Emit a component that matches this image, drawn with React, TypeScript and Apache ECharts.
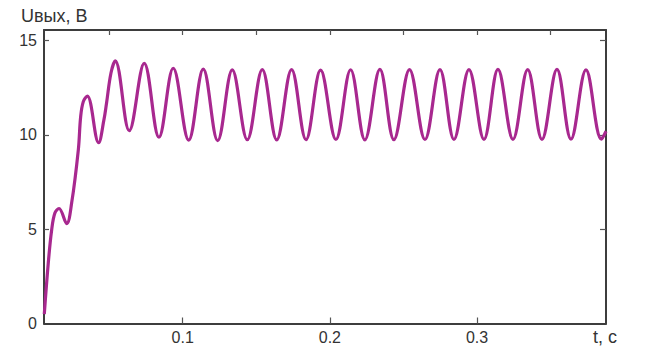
import React, { useEffect, useRef } from "react";
import * as echarts from "echarts";

// time, s (start-up points, then the peaks and troughs of the steady ripple)
const tValues = [
  0.006, 0.0087, 0.011, 0.0132, 0.016, 0.0212, 0.0246, 0.0291, 0.0307, 0.0325, 0.0352,
  0.0429, 0.0465, 0.0483, 0.0513, 0.0542, 0.0637, 0.0739, 0.0839,
  0.0936, 0.1041, 0.114, 0.1238, 0.1337, 0.1439, 0.1541, 0.1639, 0.174, 0.1838,
  0.1937, 0.2041, 0.2141, 0.2238, 0.234, 0.2435, 0.2541, 0.2646, 0.2748, 0.2843,
  0.2945, 0.3047, 0.3142, 0.3244, 0.3344, 0.3441, 0.3543, 0.3638, 0.374, 0.3845,
  0.3876,
];
// output voltage, V
const uValues = [
  0.5, 3.2, 4.96, 5.86, 6.1, 5.3, 6.4, 9.2, 10.97, 11.77, 12.07,
  9.59, 10.8, 11.7, 13.29, 13.93, 10.23, 13.8, 9.88,
  13.54, 9.73, 13.49, 9.7, 13.45, 9.75, 13.47, 9.74, 13.47, 9.75,
  13.44, 9.76, 13.46, 9.74, 13.48, 9.75, 13.47, 9.76, 13.47, 9.76,
  13.47, 9.77, 13.48, 9.77, 13.47, 9.77, 13.48, 9.78, 13.45, 9.78,
  10.2,
];

const xLabelTicks = [0.1, 0.2, 0.3];
const xTopTicks = [0.05, 0.1, 0.15, 0.2, 0.25, 0.3, 0.35];
const yTicks = [0, 5, 10, 15];
const yInnerTicks = [5, 10, 15];

const xMin = 0.0058;
const xMax = 0.3876;
const yMin = 0;
const yMax = 15.57;

const axisColor = "#3d3d3d";
const textColor = "#333333";
const lineColor = "#a8288f";
const fontFamily = "Liberation Sans, Arial, sans-serif";

export default function App() {
  const ref = useRef<HTMLDivElement>(null);

  useEffect(() => {
    if (!ref.current) return;
    const chart = echarts.init(ref.current, null, { renderer: "svg" });
    const data = tValues.map((t, i) => [t, uValues[i]]);
    const tickStyle = { color: "#555", width: 1.2 };
    chart.setOption({
      animation: false,
      backgroundColor: "#ffffff",
      grid: { left: 44, right: 44, top: 30, bottom: 28.5, containLabel: false },
      xAxis: [
        {
          type: "value",
          position: "bottom",
          min: xMin,
          max: xMax,
          axisLine: { show: true, onZero: false, lineStyle: { color: axisColor, width: 2 } },
          axisTick: { show: true, inside: true, length: 6, customValues: xLabelTicks, lineStyle: tickStyle },
          axisLabel: {
            show: true,
            customValues: xLabelTicks,
            formatter: (v: number) => String(Math.round(v * 10) / 10),
            color: textColor,
            fontSize: 16,
            fontFamily,
            margin: 6,
          },
          splitLine: { show: false },
        },
        {
          type: "value",
          position: "top",
          min: xMin,
          max: xMax,
          axisLine: { show: true, onZero: false, lineStyle: { color: axisColor, width: 2 } },
          axisTick: { show: true, inside: true, length: 5, customValues: xTopTicks, lineStyle: tickStyle },
          axisLabel: { show: false },
          splitLine: { show: false },
        },
      ],
      yAxis: [
        {
          type: "value",
          position: "left",
          min: yMin,
          max: yMax,
          axisLine: { show: true, onZero: false, lineStyle: { color: axisColor, width: 2 } },
          axisTick: { show: true, inside: true, length: 5, customValues: yInnerTicks, lineStyle: tickStyle },
          axisLabel: {
            show: true,
            customValues: yTicks,
            color: textColor,
            fontSize: 16,
            fontFamily,
            margin: 7,
          },
          splitLine: { show: false },
        },
        {
          type: "value",
          position: "right",
          min: yMin,
          max: yMax,
          axisLine: { show: true, onZero: false, lineStyle: { color: axisColor, width: 2 } },
          axisTick: { show: true, inside: true, length: 6, customValues: yInnerTicks, lineStyle: tickStyle },
          axisLabel: { show: false },
          splitLine: { show: false },
        },
      ],
      graphic: [
        {
          type: "text",
          left: 21,
          top: 7,
          style: { text: "Uвых, В", fill: textColor, font: `18px ${fontFamily}` },
        },
        {
          type: "text",
          left: 593,
          top: 328,
          style: { text: "t, c", fill: textColor, font: `18px ${fontFamily}` },
        },
      ],
      series: [
        {
          type: "line",
          xAxisIndex: 0,
          yAxisIndex: 0,
          data,
          smooth: 0.37,
          showSymbol: false,
          symbol: "none",
          clip: true,
          lineStyle: { color: lineColor, width: 3.2 },
        },
      ],
    });
    return () => chart.dispose();
  }, []);

  return (
    <div
      ref={ref}
      style={{ position: "absolute", left: 0, top: 0, width: 650, height: 352, background: "#fff" }}
    />
  );
}
